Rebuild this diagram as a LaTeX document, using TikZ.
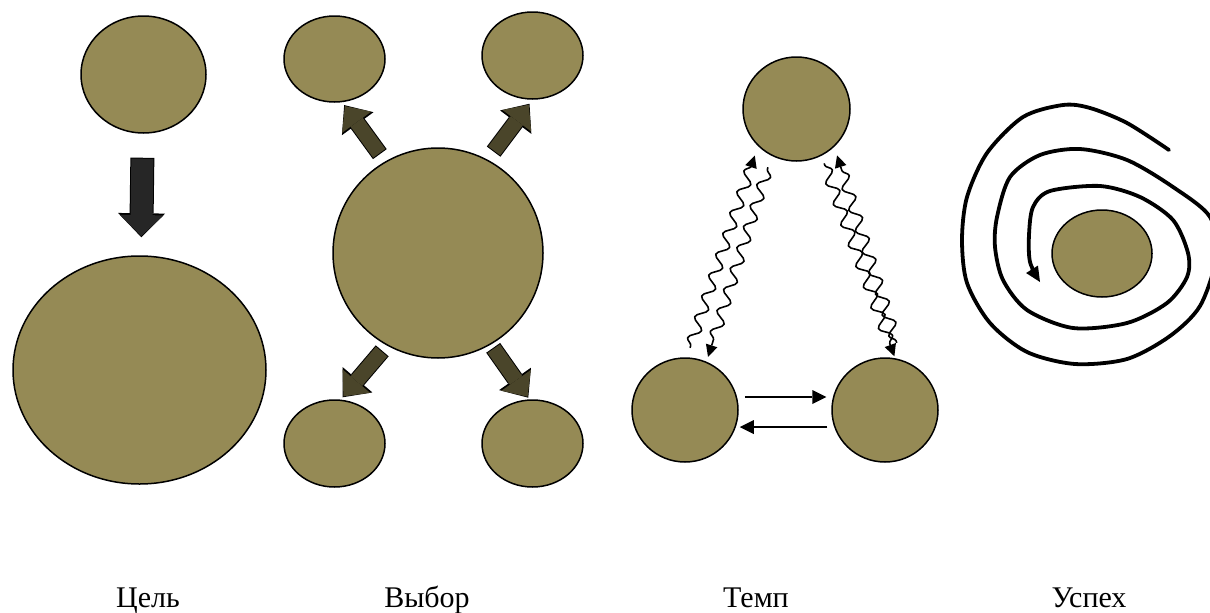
\documentclass[tikz,border=0pt]{standalone}
\usepackage{fontspec}
\setmainfont{Liberation Serif}
\usetikzlibrary{arrows.meta,calc,shapes.geometric,decorations.pathmorphing}
\definecolor{blobfill}{RGB}{149,138,85}
\definecolor{darkolive}{RGB}{74,69,42}
\definecolor{darkgrey}{RGB}{38,38,38}

\begin{document}
\begin{tikzpicture}[line join=round,x=1pt,y=-1pt,
  blob/.style={ellipse,draw=black,line width=1.5pt,fill=blobfill,inner sep=0pt},
  goalout/.style={black,line width=24pt,-{Triangle[width=47pt,length=24pt,line width=0pt]}},
  goalin/.style={darkgrey,line width=22pt,-{Triangle[width=44pt,length=21pt,line width=0pt]}},
  choiceout/.style={black,line width=17pt,-{Triangle[width=39pt,length=23pt,line width=0pt]}},
  choicein/.style={darkolive,line width=15pt,-{Triangle[width=36pt,length=20pt,line width=0pt]}},
  wave/.style={decorate,decoration={snake,amplitude=5.5pt,segment length=22pt,pre length=2pt,post length=9pt},
    line width=1.6pt,-{Triangle[length=12pt,width=12pt,line width=0pt]}},
  flow/.style={line width=2.2pt,-{Triangle[length=14pt,width=14pt,line width=0pt]}},
  caption/.style={anchor=base,font=\fontsize{30}{32}\selectfont}]
\useasboundingbox (0,0) rectangle (1210,613);

% Цель
\node[blob,minimum width=125,minimum height=117] (goalS) at (143.5,74.5) {};
\node[blob,minimum width=253,minimum height=228] (goalL) at (139.5,370) {};
\draw[goalout,shorten <=24pt,shorten >=18pt] (goalS) -- (goalL);
\draw[goalin,shorten <=25pt,shorten >=19.2pt] (goalS) -- (goalL);

% Выбор
\node[blob,minimum width=210,minimum height=210] (choice) at (438,253) {};
\node[blob,minimum width=101,minimum height=86] (choiceTL) at (334.5,59) {};
\node[blob,minimum width=101,minimum height=87] (choiceTR) at (532.5,55.5) {};
\node[blob,minimum width=101,minimum height=87] (choiceBL) at (334.5,443.5) {};
\node[blob,minimum width=101,minimum height=87] (choiceBR) at (532.5,443.5) {};
\foreach \a/\b/\s/\e in {120/choiceTL.-80/9/3.5, 62.5/choiceTR.-90/10/5,
                         241/choiceBL.82/7/3, -60.5/choiceBR.94/4/2}{
  \draw[choiceout,shorten <=\s pt,shorten >=\e pt] (choice.\a) -- (\b);
  \draw[choicein,shorten <=\s pt+1pt,shorten >=\e pt+1.2pt] (choice.\a) -- (\b);
}

% Темп
\node[blob,minimum width=107,minimum height=104] (pace) at (796.5,109) {};
\node[blob,minimum width=106,minimum height=104] (paceL) at (685,410) {};
\node[blob,minimum width=106,minimum height=104] (paceR) at (885,410) {};
\draw[wave] ($(paceL.88)!10pt!(pace.224)$) -- ($(pace.224)!10pt!(paceL.88)$);
\draw[wave] ($(pace.242)!12pt!(paceL.66)$) -- ($(paceL.66)!5pt!(pace.242)$);
\draw[wave] ($(pace.-62)!8pt!(paceR.79)$) -- ($(paceR.79)!2pt!(pace.-62)$);
\draw[wave] ($(paceR.71)!18pt!(pace.-45)$) -- ($(pace.-45)!9pt!(paceR.71)$);
\draw[flow,shorten <=6pt,shorten >=5pt] ([yshift=13pt]paceL.east) -- ([yshift=13pt]paceR.west);
\draw[flow,shorten <=4pt,shorten >=1pt] ([yshift=-17pt]paceR.west) -- ([yshift=-17pt]paceL.east);

% Успех
\node[blob,minimum width=100,minimum height=87] (core) at (1102,253.5) {};
\draw[line width=3.8pt,line cap=round,-{Triangle[length=15pt,width=14pt,line width=0pt]}]
  plot[smooth] coordinates {(1169,150) (1127,123) (1090,108) (1063,105) (1023,117) (987,153)
  (967,197) (962,240) (967,283) (990,323) (1027,352) (1075,364) (1127,359) (1170,336)
  (1200,306) (1216,258) (1210,217) (1173,187) (1127,160) (1080,149) (1040,155) (1010,177)
  (997,217) (995,247) (1003,280) (1027,310) (1073,328) (1127,323) (1167,303) (1187,277)
  (1188,253) (1173,220) (1140,197) (1100,186) (1050,191) (1033,207) (1029,235) (1030,262)
  (1040,282)};

% подписи
\node[caption] (goalT) at (148,607) {Цель};
\node[caption] (choiceT) at (427,607) {Выбор};
\node[caption] (paceT) at (756,607) {Темп};
\node[caption] (coreT) at (1089,607) {Успех};
\end{tikzpicture}
\end{document}
